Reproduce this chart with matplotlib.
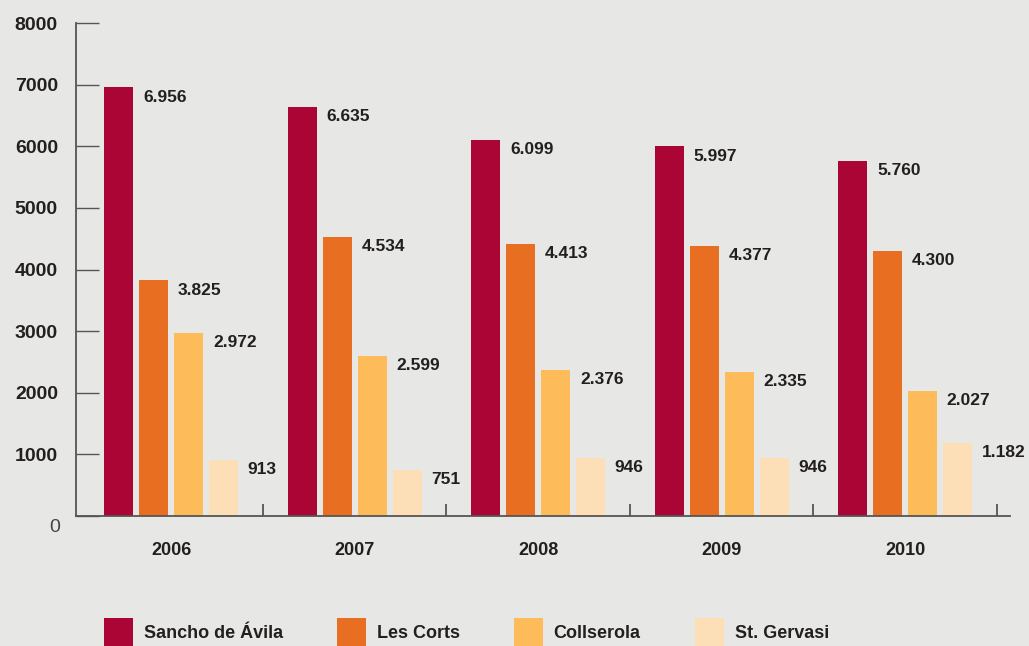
import matplotlib
matplotlib.use("Agg")
import matplotlib.pyplot as plt
import matplotlib.transforms as mtransforms
import numpy as np

plt.rcParams['font.family'] = ['Liberation Sans', 'DejaVu Sans']

# datos
anios = ['2006', '2007', '2008', '2009', '2010']
sancho = [6956, 6635, 6099, 5997, 5760]
corts = [3825, 4534, 4413, 4377, 4300]
collserola = [2972, 2599, 2376, 2335, 2027]
gervasi = [913, 751, 946, 946, 1182]
series = ['Sancho de Ávila', 'Les Corts', 'Collserola', 'St. Gervasi']
colores = ['#aa0535', '#e86f22', '#fdbb59', '#fddfb7']

fondo = '#e7e8e6'
texto = '#231f20'
eje = '#555555'

fig = plt.figure(figsize=(10.29, 6.46), dpi=100, facecolor=fondo)
ax = fig.add_axes([76/1029, 1-516/646, (1010-76)/1029, (516-23)/646])
ax.set_facecolor(fondo)

x = np.arange(len(anios))
ancho = 0.158
paso = 0.19
datos = [sancho, corts, collserola, gervasi]
for k, (vals, col, nom) in enumerate(zip(datos, colores, series)):
    pos = x + (k - 1.5) * paso
    barras = ax.bar(pos, vals, width=ancho, color=col, label=nom, zorder=2)
    for b, v in zip(barras, vals):
        etiqueta = f"{v:,}".replace(',', '.')
        ax.annotate(etiqueta, (b.get_x() + b.get_width(), v),
                    xytext=(7, -7), textcoords='offset points',
                    ha='left', va='center', fontsize=12.5,
                    fontweight='bold', color=texto)

ax.set_xlim(-0.519, 4.571)
ax.set_ylim(0, 8000)

for s in ['top', 'right']:
    ax.spines[s].set_visible(False)
ax.spines['left'].set_color(eje)
ax.spines['bottom'].set_color(eje)
ax.spines['left'].set_linewidth(1.3)
ax.spines['bottom'].set_linewidth(1.3)
ax.spines['left'].set_zorder(3)
ax.spines['bottom'].set_zorder(3)

# eje y
ax.set_yticks(np.arange(0, 8001, 1000))
ax.set_yticklabels([str(v) for v in range(0, 8001, 1000)])
ax.tick_params(axis='y', direction='in', length=16.5, width=1.0,
               color=eje, pad=13, labelsize=14, labelcolor=texto)
for lab in ax.get_yticklabels():
    lab.set_fontweight('bold')
cero = ax.get_yticklabels()[0]
cero.set_fontweight('normal')
cero.set_color('#444444')
cero.set_transform(cero.get_transform() +
                   mtransforms.ScaledTranslation(0.02, -10/100, fig.dpi_scale_trans))

# eje x: marcas en los límites, etiquetas en el centro
ax.set_xticks(x + 0.5)
ax.set_xticklabels([])
ax.tick_params(axis='x', which='major', direction='in', length=9,
               width=1.3, color=eje)
ax.set_xticks(x, minor=True)
ax.set_xticklabels(anios, minor=True)
ax.tick_params(axis='x', which='minor', length=0, pad=19,
               labelsize=13, labelcolor=texto)
for lab in ax.get_xticklabels(minor=True):
    lab.set_fontweight('bold')

leg = fig.legend(loc='upper left', bbox_to_anchor=(104/1029, 1-618/646),
                 ncol=4, frameon=False, fontsize=13, borderpad=0,
                 borderaxespad=0, handlelength=1.6, handleheight=2.1,
                 handletextpad=0.6, columnspacing=3.0)
for t in leg.get_texts():
    t.set_fontweight('bold')
    t.set_color(texto)

fig.savefig('out.png', dpi=100, facecolor=fondo)
